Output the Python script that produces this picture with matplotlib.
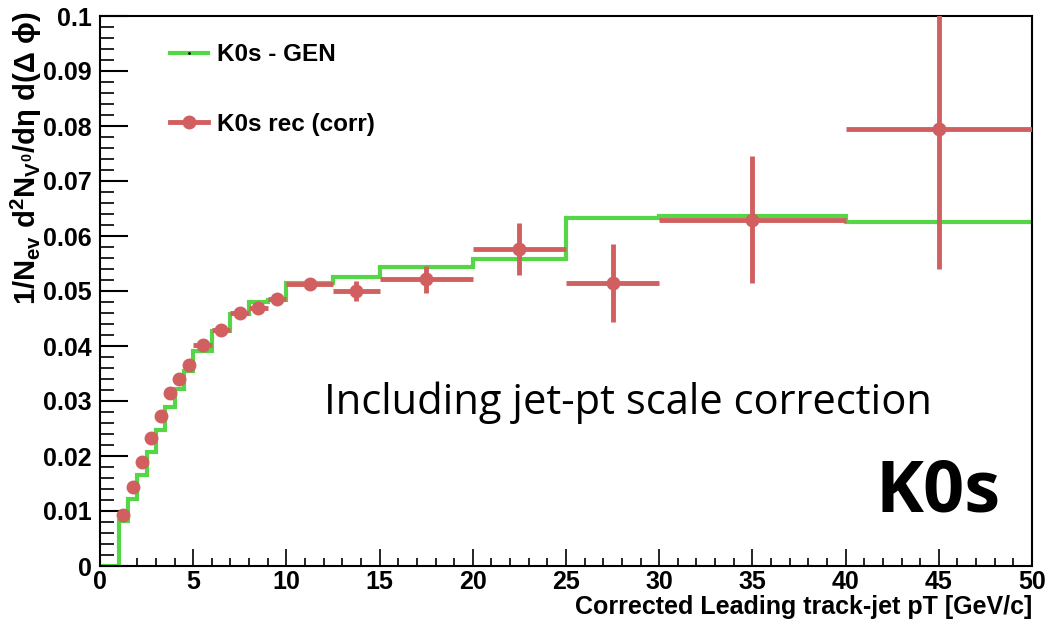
import numpy as np
import matplotlib
matplotlib.use('Agg')
import matplotlib.pyplot as plt
from matplotlib.lines import Line2D
from matplotlib.ticker import MultipleLocator

plt.rcParams['font.family'] = ['Liberation Sans', 'DejaVu Sans']
plt.rcParams['mathtext.fontset'] = 'custom'
plt.rcParams['mathtext.rm'] = 'Liberation Sans:bold'
plt.rcParams['mathtext.bf'] = 'Liberation Sans:bold'
plt.rcParams['mathtext.it'] = 'Liberation Sans:bold'

# GEN histogram (step)
gen_edges = [0, 1, 1.5, 2, 2.5, 3, 3.5, 4, 4.5, 5, 6, 7, 8, 9, 10, 12.5, 15, 20, 25, 30, 40, 50]
gen_vals = [0, 0.0081, 0.0122, 0.0165, 0.0208, 0.0248, 0.0290, 0.0322, 0.0355, 0.0391, 0.0428,
            0.0458, 0.0480, 0.0484, 0.0515, 0.0526, 0.0543, 0.0559, 0.0633, 0.0636, 0.0625]

# reconstructed (corrected) points
rec_x = [1.25, 1.75, 2.25, 2.75, 3.25, 3.75, 4.25, 4.75, 5.5, 6.5, 7.5, 8.5, 9.5,
         11.25, 13.75, 17.5, 22.5, 27.5, 35, 45]
rec_xerr = [0.25, 0.25, 0.25, 0.25, 0.25, 0.25, 0.25, 0.25, 0.5, 0.5, 0.5, 0.5, 0.5,
            1.25, 1.25, 2.5, 2.5, 2.5, 5, 5]
rec_y = [0.0092, 0.0143, 0.0189, 0.0232, 0.0272, 0.0314, 0.0340, 0.0366, 0.0402, 0.0430,
         0.0460, 0.0469, 0.0486, 0.0513, 0.0500, 0.0521, 0.0576, 0.0515, 0.0630, 0.0795]
rec_yerr = [0.0003, 0.0003, 0.0004, 0.0004, 0.0004, 0.0005, 0.0005, 0.0005, 0.0005, 0.0006,
            0.0006, 0.0007, 0.0008, 0.0009, 0.0019, 0.0024, 0.0047, 0.0071, 0.0116, 0.0255]

green = '#55d646'
red = '#d15f5f'

fig = plt.figure(figsize=(10.46, 6.19), dpi=100)
ax = fig.add_axes([100 / 1046, 53 / 619, 932 / 1046, 550 / 619])

ax.stairs(gen_vals, gen_edges, color=green, lw=3, baseline=None, zorder=2)
ax.errorbar(rec_x, rec_y, xerr=rec_xerr, yerr=rec_yerr, fmt='o', color=red, ms=9,
            elinewidth=3.5, capsize=0, zorder=3)

ax.set_xlim(0, 50)
ax.set_ylim(0, 0.1)
ax.xaxis.set_major_locator(MultipleLocator(5))
ax.xaxis.set_minor_locator(MultipleLocator(1))
ax.yaxis.set_major_locator(MultipleLocator(0.01))
ax.yaxis.set_minor_locator(MultipleLocator(0.002))
ax.yaxis.set_major_formatter(plt.FuncFormatter(lambda v, p: ('%g' % round(v, 3))))
ax.tick_params(axis='both', which='both', direction='in', labelsize=18, colors='black')
ax.tick_params(axis='y', which='major', length=20, width=1.5, pad=6)
ax.tick_params(axis='y', which='minor', length=10, width=1.2)
ax.tick_params(axis='x', which='major', length=12, width=1.2, pad=3)
ax.tick_params(axis='x', which='minor', length=6, width=1.2)
for lab in ax.get_xticklabels() + ax.get_yticklabels():
    lab.set_fontweight('bold')
for s in ax.spines.values():
    s.set_linewidth(1.5)

handles = [Line2D([], [], color=green, lw=3, marker='.', ms=2, mfc='black', mec='black'),
           Line2D([], [], color=red, lw=3.5, marker='o', ms=9)]
ax.legend(handles, ['K0s - GEN', 'K0s rec (corr)'], loc='upper left', bbox_to_anchor=(0.052, 0.99),
          frameon=False, handlelength=1.55, handletextpad=0.35, labelspacing=1.9,
          prop={'weight': 'bold', 'size': 17.5})

fig.text(26 / 1046, 1 - 12 / 619,
         r'1/N$_{ev}$ d$^{2}$N$_{V^{0}}$/d$\eta$ d($\Delta$ $\phi$)',
         rotation=90, ha='center', va='top', fontsize=21, fontweight='bold')
fig.text(1032 / 1046, 1 - 607 / 619, 'Corrected Leading track-jet pT [GeV/c]',
         ha='right', va='center', fontsize=18, fontweight='bold')

fig.text(628 / 1046, 1 - 403 / 619, 'Including jet-pt scale correction',
         ha='center', va='center', fontsize=30, family='Open Sans')
fig.text(938 / 1046, 1 - 492 / 619, 'K0s', ha='center', va='center', fontsize=52,
         fontweight='bold', family='Open Sans')

fig.savefig('out.png', dpi=100)
